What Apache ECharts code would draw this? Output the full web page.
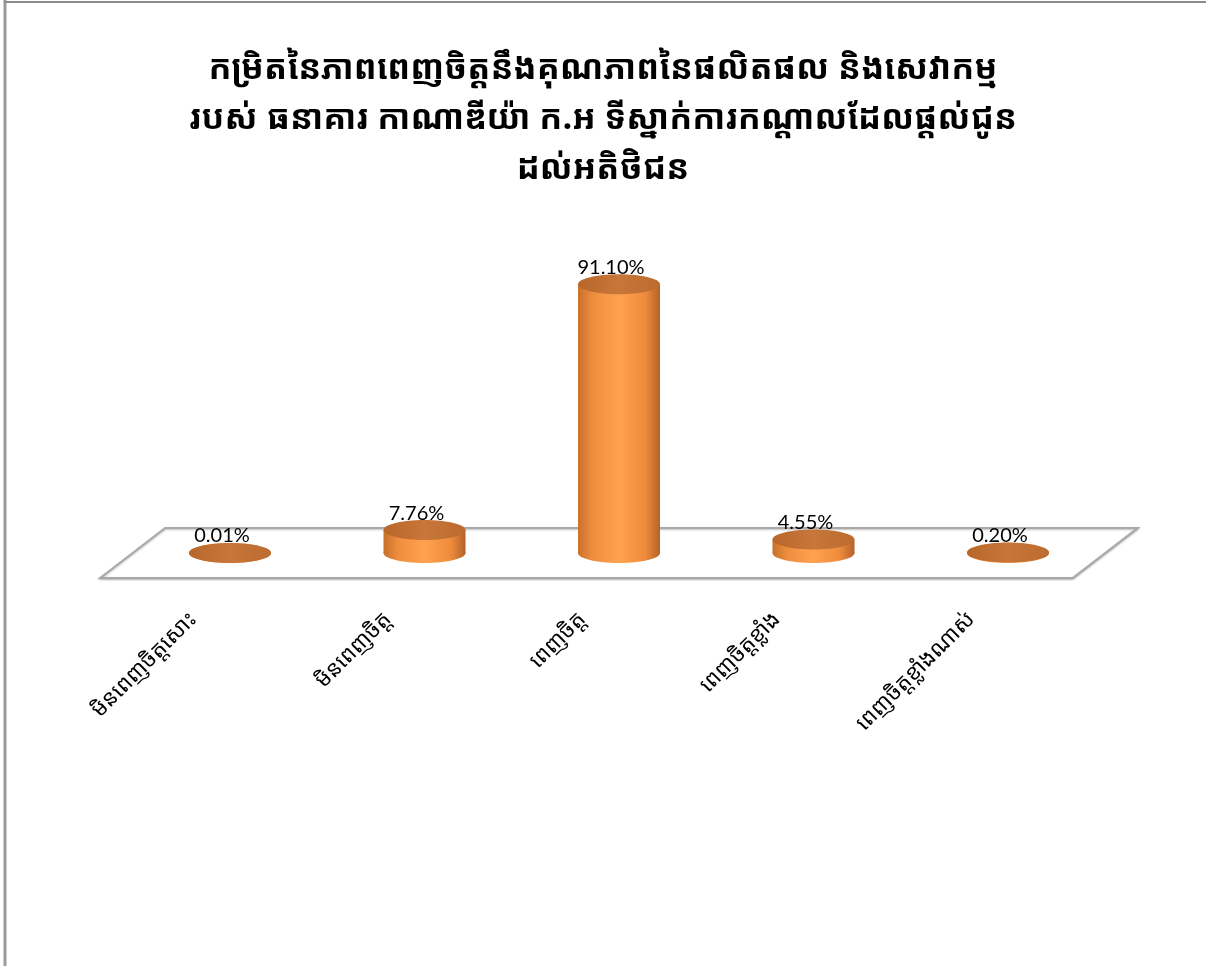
<!DOCTYPE html>
<html>
<head>
<meta charset="utf-8">
<script src="https://cdn.jsdelivr.net/npm/echarts@6/dist/echarts.min.js"></script>
<style>
  html, body { margin: 0; padding: 0; background: #ffffff; overflow: hidden; }
  #chart { width: 1206px; height: 966px; }
</style>
</head>
<body>
<div id="chart"></div>
<script>
// Satisfaction levels and their shares (%)
const categories = [
  'មិនពេញចិត្តសោះ',
  'មិនពេញចិត្ត',
  'ពេញចិត្ត',
  'ពេញចិត្តខ្លាំង',
  'ពេញចិត្តខ្លាំងណាស់'
];
const shares = [0.01, 7.76, 91.10, 4.55, 0.20];

const titleText = 'កម្រិតនៃភាពពេញចិត្តនឹងគុណភាពនៃផលិតផល និងសេវាកម្ម\n' +
  'របស់ ធនាគារ កាណាឌីយ៉ា ក.អ ទីស្នាក់ការកណ្តាលដែលផ្តល់ជូន\n' +
  'ដល់អតិថិជន';

const khmerFont = '"Noto Sans Khmer", "Noto Serif Khmer", "Khmer OS", "Hanuman", "Noto Sans", sans-serif';
const numberFont = 'Lato, "Open Sans", sans-serif';

// cylinder and floor styling
const RX = 41, RY = 10;             // ellipse radii of each cylinder
const DEPTH_X = 32.5, DEPTH_Y = 25; // half-depth skew of the 3D floor

const bodyGradient = new echarts.graphic.LinearGradient(0, 0, 1, 0, [
  { offset: 0, color: '#c8712c' },
  { offset: 0.18, color: '#ee8d3e' },
  { offset: 0.5, color: '#ffa24f' },
  { offset: 0.82, color: '#ef8c3c' },
  { offset: 1, color: '#b4622a' }
]);
const topGradient = new echarts.graphic.LinearGradient(0, 0, 1, 0, [
  { offset: 0, color: '#b8672a' },
  { offset: 0.5, color: '#c8763a' },
  { offset: 1, color: '#bb6c2e' }
]);

const chart = echarts.init(document.getElementById('chart'), null, { renderer: 'canvas' });

chart.setOption({
  backgroundColor: '#ffffff',
  animation: false,
  title: {
    text: titleText,
    left: 'center',
    top: 39,
    textStyle: {
      fontFamily: khmerFont,
      fontSize: 34,
      fontWeight: 'bold',
      color: '#000000',
      lineHeight: 50
    }
  },
  graphic: [
    {
      type: 'line',
      shape: { x1: 5, y1: 0, x2: 5, y2: 966 },
      style: { stroke: '#9a9a9a', lineWidth: 3 },
      silent: true
    },
    {
      type: 'line',
      shape: { x1: 4, y1: 2, x2: 1206, y2: 2 },
      style: { stroke: '#8c8c8c', lineWidth: 2 },
      silent: true
    }
  ],
  grid: [
    { left: 132.75, width: 972.5, top: 258, bottom: 413 },
    { left: 96, width: 972.5, top: 300, bottom: 356 }
  ],
  xAxis: [
    {
      gridIndex: 0, type: 'category', data: categories,
      axisLine: { show: false }, axisTick: { show: false }, axisLabel: { show: false }
    },
    {
      gridIndex: 1, type: 'category', data: categories,
      axisLine: { show: false }, axisTick: { show: false },
      axisLabel: {
        rotate: 45, margin: 6, interval: 0,
        fontFamily: khmerFont, fontSize: 22, color: '#000000'
      }
    }
  ],
  yAxis: [
    { gridIndex: 0, type: 'value', min: 0, max: 100, show: false },
    { gridIndex: 1, type: 'value', min: 0, max: 100, show: false }
  ],
  series: [
    {
      // the 3D floor under the cylinders
      type: 'custom',
      xAxisIndex: 0, yAxisIndex: 0,
      data: [0],
      z: 1,
      silent: true,
      renderItem: function (params, api) {
        const first = api.coord([0, 0]);
        const last = api.coord([categories.length - 1, 0]);
        const band = api.size([1, 0])[0];
        const x0 = first[0] - band / 2, x1 = last[0] + band / 2, y = first[1];
        return {
          type: 'polygon',
          shape: {
            points: [
              [x0 + DEPTH_X, y - DEPTH_Y],
              [x1 + DEPTH_X, y - DEPTH_Y],
              [x1 - DEPTH_X, y + DEPTH_Y],
              [x0 - DEPTH_X, y + DEPTH_Y]
            ]
          },
          style: {
            fill: '#ffffff', stroke: '#a9a9a9', lineWidth: 2,
            shadowBlur: 2, shadowColor: 'rgba(0,0,0,0.25)', shadowOffsetY: 1
          }
        };
      }
    },
    {
      // one cylinder per category, with its value label on top
      type: 'custom',
      xAxisIndex: 0, yAxisIndex: 0,
      data: shares.map(function (v, i) { return [i, v]; }),
      z: 3,
      renderItem: function (params, api) {
        const idx = api.value(0);
        const val = api.value(1);
        const base = api.coord([idx, 0]);
        const top = api.coord([idx, val]);
        const cx = base[0];
        return {
          type: 'group',
          children: [
            {
              type: 'ellipse',
              shape: { cx: cx, cy: base[1], rx: RX, ry: RY },
              style: { fill: bodyGradient }
            },
            {
              type: 'rect',
              shape: { x: cx - RX, y: top[1], width: RX * 2, height: base[1] - top[1] },
              style: { fill: bodyGradient }
            },
            {
              type: 'ellipse',
              shape: { cx: cx, cy: top[1], rx: RX, ry: RY },
              style: { fill: topGradient }
            },
            {
              type: 'text',
              style: {
                x: cx - 8,
                y: top[1] - RY + 3,
                text: val.toFixed(2) + '%',
                align: 'center',
                verticalAlign: 'bottom',
                fontFamily: numberFont,
                fontSize: 20,
                fill: '#000000'
              }
            }
          ]
        };
      }
    }
  ]
});
</script>
</body>
</html>
